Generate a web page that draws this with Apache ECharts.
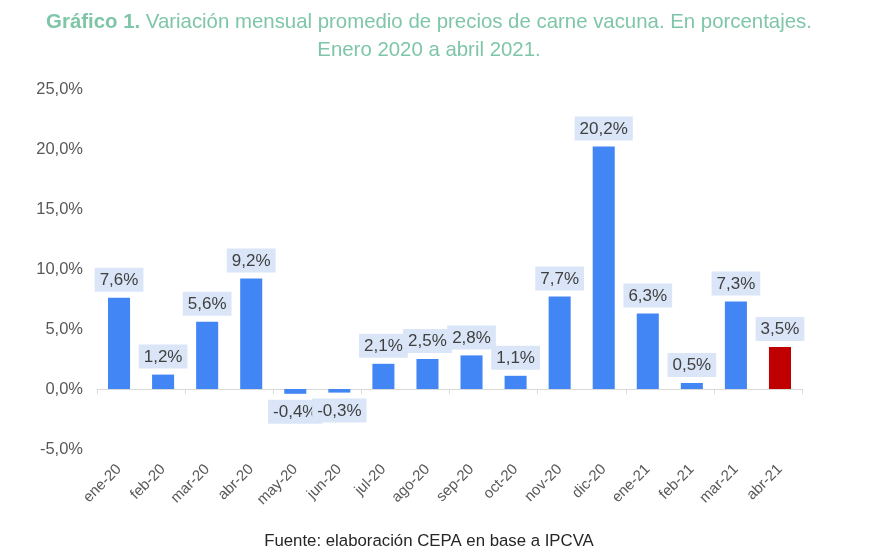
<!DOCTYPE html>
<html>
<head>
<meta charset="utf-8">
<script src="https://cdn.jsdelivr.net/npm/echarts@6/dist/echarts.min.js"></script>
<style>
  html, body { margin: 0; padding: 0; background: #fff; }
  #main { width: 887px; height: 559px; }
</style>
</head>
<body>
<div id="main"></div>
<script>
// meses y variaciones (%)
var months = ['ene-20','feb-20','mar-20','abr-20','may-20','jun-20','jul-20','ago-20','sep-20','oct-20','nov-20','dic-20','ene-21','feb-21','mar-21','abr-21'];
var values = [7.6, 1.2, 5.6, 9.2, -0.4, -0.3, 2.1, 2.5, 2.8, 1.1, 7.7, 20.2, 6.3, 0.5, 7.3, 3.5];
var highlight = 'abr-21';

var fmt = function (v) { return v.toFixed(1).replace('.', ',') + '%'; };

var myChart = echarts.init(document.getElementById('main'));

var barData = values.map(function (v, i) {
  return {
    value: v,
    itemStyle: { color: months[i] === highlight ? '#c00000' : '#4285f4' },
    label: { position: v < 0 ? 'bottom' : 'top' }
  };
});

myChart.setOption({
  animation: false,
  textStyle: { fontFamily: 'Liberation Sans, Arial, sans-serif' },
  title: [{
    left: 424,
    textAlign: 'center',
    top: 3,
    text: '{b|Gráfico 1.} Variación mensual promedio de precios de carne vacuna. En porcentajes.\nEnero 2020 a abril 2021.',
    textStyle: {
      color: '#7fc6a9',
      fontSize: 20.4,
      fontWeight: 'normal',
      lineHeight: 28,
      rich: {
        b: { fontWeight: 'bold', fontSize: 20.4, color: '#7fc6a9', lineHeight: 28 }
      }
    }
  }, {
    left: 424,
    textAlign: 'center',
    top: 528,
    text: 'Fuente: elaboración CEPA en base a IPCVA',
    textStyle: { color: '#262626', fontSize: 16.8, fontWeight: 'normal' }
  }],
  grid: { left: 97, right: 85, top: 89, bottom: 110 },
  xAxis: [{
    // etiquetas abajo del área de trazado
    type: 'category',
    data: months,
    position: 'bottom',
    axisLine: { show: false, onZero: false },
    axisTick: { show: false },
    axisLabel: {
      rotate: 45,
      color: '#595959',
      fontSize: 15,
      margin: 18
    }
  }, {
    // línea del cero con marcas
    type: 'category',
    data: months,
    position: 'bottom',
    axisLine: { onZero: true, lineStyle: { color: '#d9d9d9' } },
    axisTick: { show: true, length: 5, lineStyle: { color: '#d9d9d9' } },
    axisLabel: { show: false }
  }],
  yAxis: {
    type: 'value',
    min: -5,
    max: 25,
    interval: 5,
    splitLine: { show: false },
    axisLine: { show: false },
    axisTick: { show: false },
    axisLabel: {
      color: '#595959',
      fontSize: 16.5,
      margin: 14,
      formatter: function (v) { return fmt(v); }
    }
  },
  series: [{
    type: 'bar',
    xAxisIndex: 0,
    data: barData,
    barWidth: '50%',
    label: {
      show: true,
      color: '#404040',
      fontSize: 17,
      backgroundColor: '#dae6f8',
      padding: [4, 5, 3, 5],
      distance: 6,
      formatter: function (p) { return fmt(p.value); }
    }
  }]
});
</script>
</body>
</html>
